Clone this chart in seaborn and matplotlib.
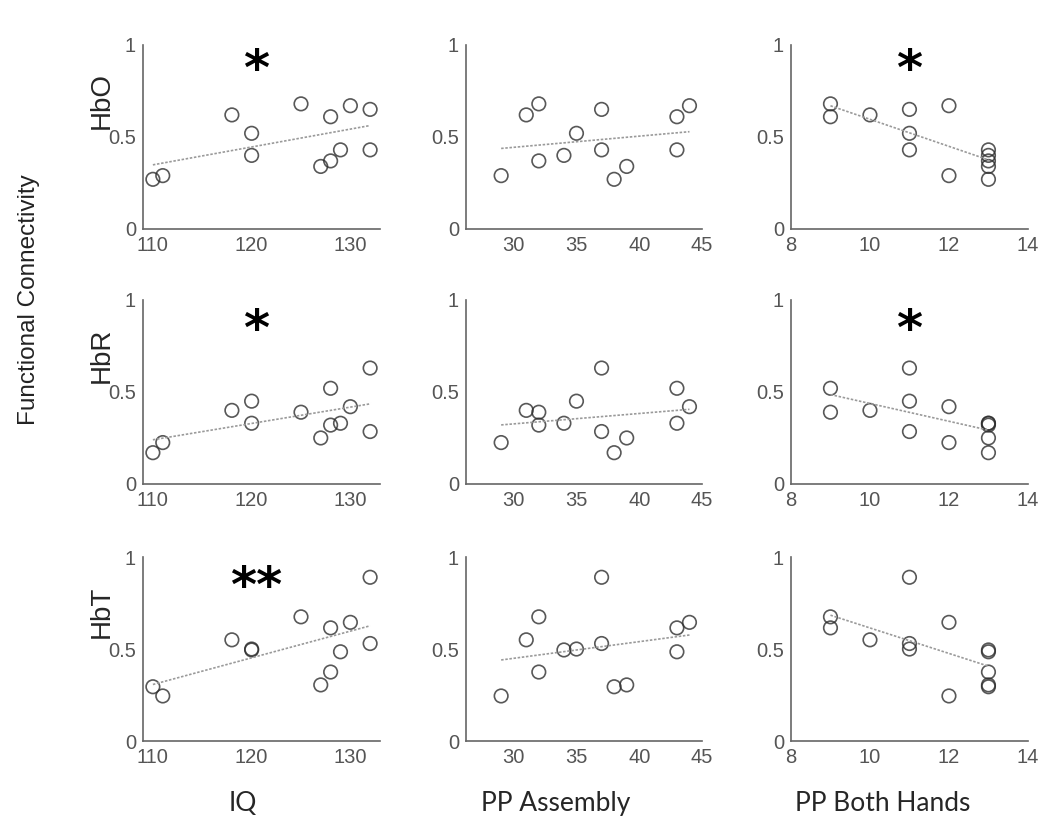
import pandas as pd
import matplotlib
matplotlib.use('Agg')
import matplotlib.pyplot as plt
import seaborn as sns

# one value per subject (13 subjects)
iq = [110, 111, 118, 120, 120, 125, 127, 128, 128, 129, 130, 132, 132]
pp_assembly = [38, 29, 31, 35, 34, 32, 39, 43, 32, 43, 44, 37, 37]
pp_both = [13, 12, 10, 11, 13, 9, 13, 9, 13, 13, 12, 11, 11]

hbo = [0.27, 0.29, 0.62, 0.52, 0.40, 0.68, 0.34, 0.61, 0.37, 0.43, 0.67, 0.65, 0.43]
hbr = [0.17, 0.225, 0.40, 0.45, 0.33, 0.39, 0.25, 0.52, 0.32, 0.33, 0.42, 0.63, 0.285]
hbt = [0.295, 0.245, 0.55, 0.50, 0.495, 0.675, 0.305, 0.615, 0.375, 0.485, 0.645, 0.89, 0.53]

x_names = ['IQ', 'PP Assembly', 'PP Both Hands']
y_names = ['HbO', 'HbR', 'HbT']

# significance marks: (row, col) -> text
stars = {(0, 0): '*', (1, 0): '*', (2, 0): '**', (0, 2): '*', (1, 2): '*'}

df = pd.DataFrame({'IQ': iq, 'PP Assembly': pp_assembly, 'PP Both Hands': pp_both,
                   'HbO': hbo, 'HbR': hbr, 'HbT': hbt})

sns.set_style('white')
plt.rcParams['font.family'] = ['Liberation Sans', 'DejaVu Sans']

fig = plt.figure(figsize=(10.5, 8.33), dpi=100)

lefts = [0.1362, 0.4438, 0.7533]
widths = [0.2257, 0.2248, 0.2257]
bottoms = [0.7251, 0.419, 0.1104]
h = 0.2209

xlims = [(109, 133), (26.2, 45), (8, 14)]
xticks = [[110, 120, 130], [30, 35, 40, 45], [8, 10, 12, 14]]
star_x = [120.5, None, 11]
star_y = [0.86, 0.83, 0.83]

gray = '#555555'

for r, yname in enumerate(y_names):
    for c, xname in enumerate(x_names):
        ax = fig.add_axes([lefts[c], bottoms[r], widths[c], h])
        sns.regplot(data=df, x=xname, y=yname, ax=ax, ci=None, color='#2e2e2e',
                    scatter_kws={'facecolors': 'none', 's': 95, 'linewidths': 1.2},
                    line_kws={'color': '#9a9a9a', 'ls': (0, (1.5, 1)), 'lw': 1.2})
        ax.set_xlim(*xlims[c])
        ax.set_ylim(0, 1)
        ax.set_xticks(xticks[c])
        ax.set_yticks([0, 0.5, 1])
        ax.set_yticklabels(['0', '0.5', '1'])
        ax.set_xlabel('')
        ax.set_ylabel('')
        for s in ['top', 'right']:
            ax.spines[s].set_visible(False)
        for s in ['left', 'bottom']:
            ax.spines[s].set_color('#666666')
            ax.spines[s].set_linewidth(1.2)
        ax.tick_params(direction='in', length=3, width=1, colors='#666666',
                       labelcolor=gray, labelsize=14.5, pad=5)
        ax.patch.set_alpha(0)
        if (r, c) in stars:
            ax.text(star_x[c], star_y[r], stars[(r, c)], ha='center', va='center',
                    fontsize=36, fontweight='bold', color='black',
                    family='DejaVu Sans')

# row labels
for r, yname in enumerate(y_names):
    yc = bottoms[r] + h * 0.7
    fig.text(0.097, yc, yname, rotation=90, ha='center', va='center', fontsize=20)

fig.text(0.028, 0.64, 'Functional Connectivity', rotation=90, ha='center', va='center',
         fontsize=17.5, color='#222222')

# column labels
col_x = [0.231, 0.529, 0.841]
for c, xname in enumerate(x_names):
    fig.text(col_x[c], 0.036, xname, ha='center', va='center', fontsize=19,
             family=['Lato', 'DejaVu Sans'])

fig.savefig('out.png', dpi=100)
